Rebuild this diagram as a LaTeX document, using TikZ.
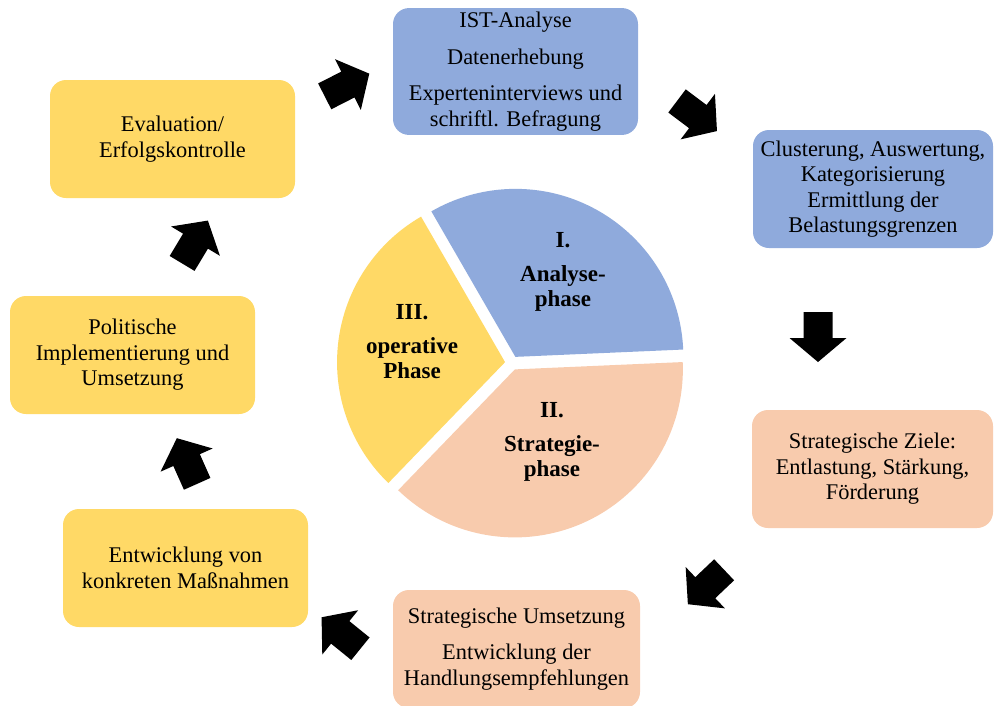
\documentclass[tikz,border=0pt]{standalone}
\usepackage{fontspec}
\setmainfont{Liberation Serif}

\definecolor{phaseblue}{HTML}{8FAADC}
\definecolor{phasepeach}{HTML}{F8CBAD}
\definecolor{phaseyellow}{HTML}{FFD966}

\tikzset{
  stepbox/.style={rounded corners=16pt, minimum width=245pt, minimum height=118pt,
    align=center, inner sep=4pt, font=\fontsize{22.4}{25.5}\selectfont},
  phaselabel/.style={align=center, font=\bfseries\fontsize{23}{25}\selectfont},
  blockarrow/.pic={
    \fill[black] (-25,-14.5) -- (1,-14.5) -- (1,-28.5) -- (25,0)
      -- (1,28.5) -- (1,14.5) -- (-25,14.5) -- cycle;
  }
}

\begin{document}
\begin{tikzpicture}[x=1pt, y=-1pt]
    \useasboundingbox (0,0) rectangle (994,705);

    % Pie chart (three phases, slightly pulled apart)
    \begin{scope}[shift={(512,363)}, y=1pt]
      \fill[phaseblue] (61.25:7) -- ++(2.5:168) arc[start angle=2.5, end angle=120, radius=168] -- cycle;
      \fill[phaseyellow] (173:7) -- ++(120:168) arc[start angle=120, end angle=226, radius=168] -- cycle;
      \fill[phasepeach] (294.25:7) -- ++(226:168) arc[start angle=226, end angle=362.5, radius=168] -- cycle;
    \end{scope}
    \node[phaselabel] (ph1) at (563,272) {I.\\[9pt]Analyse-\\phase};
    \node[phaselabel] (ph2) at (552,442) {II.\\[9pt]Strategie-\\phase};
    \node[phaselabel] (ph3) at (412,342) {III.\\[9pt]operative\\Phase};

    % Analysis phase
    \node[stepbox, fill=phaseblue] (ist) at (515.5,71.5)
      {IST-Analyse\\[11pt]Datenerhebung\\[11pt]Experteninterviews und\\schriftl. Befragung};
    \node[stepbox, fill=phaseblue, minimum width=240pt] (cluster) at (873,189)
      {Clusterung, Auswertung,\\Kategorisierung\\Ermittlung der\\Belastungsgrenzen};

    % Strategy phase
    \node[stepbox, fill=phasepeach, minimum width=241pt] (ziele) at (872.5,469)
      {Strategische Ziele:\\Entlastung, St\"arkung,\\F\"orderung};
    \node[stepbox, fill=phasepeach, minimum width=247pt] (umsetzung) at (516.5,649)
      {Strategische Umsetzung\\[11pt]Entwicklung der\\Handlungsempfehlungen};

    % Operative phase
    \node[stepbox, fill=phaseyellow] (massnahmen) at (185.5,568)
      {Entwicklung von\\konkreten Ma\ss nahmen};
    \node[stepbox, fill=phaseyellow] (politik) at (132.5,355)
      {Politische\\Implementierung und\\Umsetzung};
    \node[stepbox, fill=phaseyellow] (evaluation) at (172.5,139)
      {Evaluation/\\Erfolgskontrolle};

    % Block arrows around the cycle
    \pic[rotate=27] at (347,85) {blockarrow};
    \pic[rotate=-37] at (697,116) {blockarrow};
    \pic[rotate=-90] at (818,337) {blockarrow};
    \pic[rotate=223.5] at (706,587) {blockarrow};
    \pic[rotate=141] at (341,633) {blockarrow};
    \pic[rotate=114] at (187,461) {blockarrow};
    \pic[rotate=59] at (195,242) {blockarrow};
\end{tikzpicture}
\end{document}
